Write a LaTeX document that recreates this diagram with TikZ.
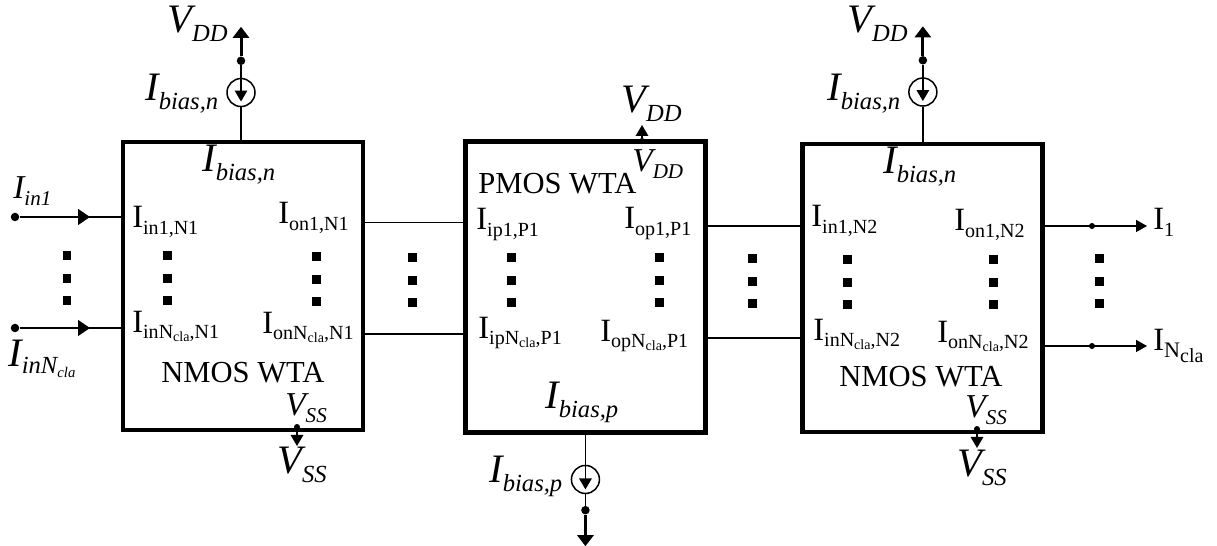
\documentclass[tikz,border=0pt]{standalone}
\usepackage{fontspec}
\setmainfont{Liberation Serif}
\usetikzlibrary{arrows.meta,positioning}
\newcommand{\fsz}[1]{\fontsize{#1}{#1}\selectfont}
\newcommand{\biglbl}[2]{{\fsz{23}\itshape #1\raisebox{-0.18cm}{\fsz{14}#2}}}
\newcommand{\smalllbl}[2]{{\fsz{19}\itshape #1\raisebox{-0.14cm}{\fsz{12}#2}}}
\newcommand{\portlbl}[1]{{\fsz{18.5}I\raisebox{-0.14cm}{\fsz{11.4}#1}}}
\newcommand{\portcla}[2]{{\fsz{18.5}I\raisebox{-0.12cm}{\fsz{11.4}#1N\raisebox{-0.06cm}{\fsz{8}cla}#2}}}
\begin{document}
\begin{tikzpicture}[
			x=0.02cm, y=-0.02cm,
			node distance=0.65cm and 1.96cm,
			wtabox/.style={draw, line width=0.09cm, minimum width=4.8cm, minimum height=5.76cm},
			source/.style={draw, circle, line width=0.03cm, minimum size=0.56cm, inner sep=0},
			junc/.style={circle, fill=black, minimum size=0.17cm, inner sep=0},
			smalljunc/.style={circle, fill=black, minimum size=0.12cm, inner sep=0},
			dotsq/.style={fill=black, minimum size=0.18cm, inner sep=0},
			lbl/.style={anchor=base west, inner sep=0},
			wire/.style={line width=0.03cm},
			rail/.style={line width=0.06cm, -{Triangle[length=0.22cm,width=0.32cm]}},
			arr/.style={line width=0.03cm, -{Triangle[length=0.24cm,width=0.32cm]}},
			outarr/.style={line width=0.03cm, -{Triangle[length=0.22cm,width=0.24cm]}},
			tinyarr/.style={line width=0.03cm, -{Triangle[length=0.22cm,width=0.25cm]}}
			]
			\useasboundingbox (0,0) rectangle (1217,546);

			\node[wtabox] (boxA) at (243,286) {};
			\node[wtabox, right=of boxA, yshift=-0.02cm, minimum height=5.82cm] (boxB) {};
			\node[wtabox, right=1.85cm of boxB, yshift=-0.02cm] (boxC) {};

			\node[source, above=of boxA, xshift=-0.04cm] (srcA) {};
			\node[source, above=0.7cm of boxC, xshift=0.01cm] (srcC) {};
			\node[source, below=0.6cm of boxB] (srcB) {};

			\node[junc, above=0.34cm of srcA.north, anchor=center] (juncA) {};
			\node[junc, above=0.34cm of srcC.north, anchor=center] (juncC) {};
			\node[junc, below=0.32cm of srcB.south, anchor=center] (juncB) {};
			\coordinate[above=0.68cm of juncA.center] (vddA);
			\coordinate[above=0.68cm of juncC.center] (vddC);
			\coordinate[below=0.72cm of juncB.center] (gndB);

			\draw[wire] (srcA.south) -- (srcA.south |- boxA.north);
			\draw[wire] (srcC.south) -- (srcC.south |- boxC.north);
			\draw[wire] (srcB.north) -- (srcB.north |- boxB.south);
			\draw[wire] (srcA.north) -- (juncA);
			\draw[wire] (srcC.north) -- (juncC);
			\draw[wire] (srcB.south) -- (juncB);
			\draw[rail] (juncA) -- (vddA);
			\draw[rail] (juncC) -- (vddC);
			\draw[rail] (juncB) -- (gndB);

			\coordinate[below=0.18cm of srcA.center] (tipA);
			\coordinate[below=0.18cm of srcC.center] (tipC);
			\coordinate[below=0.2cm of srcB.center] (tipB);
			\draw[tinyarr] (srcA.north) -- (tipA);
			\draw[tinyarr] (srcC.north) -- (tipC);
			\draw[tinyarr] (srcB.north) -- (tipB);

			\node[smalljunc] (juncVddB) at (642,141) {};
			\coordinate (vddB) at (642,125);
			\draw[tinyarr] (juncVddB) -- (vddB);
			\node[smalljunc] (juncVssA) at (297,427) {};
			\coordinate (vssA) at (297,446);
			\draw[tinyarr] (juncVssA) -- (vssA);
			\node[smalljunc] (juncVssC) at (977,429) {};
			\coordinate (vssC) at (977,448);
			\draw[tinyarr] (juncVssC) -- (vssC);

			\node[junc] (inOne) at (15,217) {};
			\node[junc] (inCla) at (15,328) {};
			\coordinate (inOneTip) at (90,217);
			\coordinate (inClaTip) at (90,328);
			\draw[wire] (inOne) -- (boxA.west |- inOne);
			\draw[wire] (inCla) -- (boxA.west |- inCla);
			\draw[arr] (inOne) -- (inOneTip);
			\draw[arr] (inCla) -- (inClaTip);

			\coordinate (abOne) at (400,222.5);
			\coordinate (abCla) at (400,334);
			\draw[wire] (boxA.east |- abOne) -- (boxB.west |- abOne);
			\draw[wire] (boxA.east |- abCla) -- (boxB.west |- abCla);
			\coordinate (bcOne) at (750,226);
			\coordinate (bcCla) at (750,338);
			\draw[wire] (boxB.east |- bcOne) -- (boxC.west |- bcOne);
			\draw[wire] (boxB.east |- bcCla) -- (boxC.west |- bcCla);

			\node[smalljunc] (outOne) at (1092,226) {};
			\node[smalljunc] (outCla) at (1092,346) {};
			\coordinate (outOneTip) at (1147,226);
			\coordinate (outClaTip) at (1147,346);
			\draw[outarr] (boxC.east |- outOne) -- (outOneTip);
			\draw[outarr] (boxC.east |- outCla) -- (outClaTip);

			\foreach \x/\y in {67/256,167/256,316/257,412/258,511/258,659/258,752/259,847/260,993/260,1099/259}
			\foreach \k in {0,1,2}
			\node[dotsq] (sq\x-\k) at (\x,\y+22.5*\k) {};

			\node[lbl] (vddLblA) at (167,33) {\biglbl{V}{DD}};
			\node[lbl] (biasTopA) at (145,101) {\biglbl{I}{bias,n}};
			\node[lbl] (biasInA) at (202,172) {\biglbl{I}{bias,n}};
			\node[lbl] (inOneLbl) at (13,199) {\smalllbl{I}{in1}};
			\node[lbl] (inClaLbl) at (8,367) {{\fsz{23}\itshape I\raisebox{-0.14cm}{\fsz{14}inN\raisebox{-0.08cm}{\fsz{8.4}cla}}}};
			\node[lbl] (ptA1) at (132,228) {\portlbl{in1,N1}};
			\node[lbl] (ptA2) at (278,224) {\portlbl{on1,N1}};
			\node[lbl] (ptA3) at (132,333) {\portcla{in}{,N1}};
			\node[lbl] (ptA4) at (262,334) {\portcla{on}{,N1}};
			\node[lbl, font=\fsz{17.4}] (nameA) at (161,383) {NMOS WTA};
			\node[lbl] (vssInA) at (285,416) {\smalllbl{V}{SS}};
			\node[lbl] (vssOutA) at (277,474) {\biglbl{V}{SS}};

			\node[lbl] (vddLblB) at (621,113) {\biglbl{V}{DD}};
			\node[lbl] (vddInB) at (632,172) {\smalllbl{V}{DD}};
			\node[lbl, font=\fsz{17.4}] (nameB) at (478,194) {PMOS WTA};
			\node[lbl] (ptB1) at (476,230) {\portlbl{ip1,P1}};
			\node[lbl] (ptB2) at (624,229) {\portlbl{op1,P1}};
			\node[lbl] (ptB3) at (478,339) {\portcla{ip}{,P1}};
			\node[lbl] (ptB4) at (600,342) {\portcla{op}{,P1}};
			\node[lbl] (biasInB) at (545,409) {\biglbl{I}{bias,p}};
			\node[lbl] (biasOutB) at (489,483) {\biglbl{I}{bias,p}};

			\node[lbl] (vddLblC) at (847,33) {\biglbl{V}{DD}};
			\node[lbl] (biasTopC) at (827,101) {\biglbl{I}{bias,n}};
			\node[lbl] (biasInC) at (883,174) {\biglbl{I}{bias,n}};
			\node[lbl] (ptC1) at (811,227) {\portlbl{in1,N2}};
			\node[lbl] (ptC2) at (954,231) {\portlbl{on1,N2}};
			\node[lbl] (ptC3) at (813,341) {\portcla{in}{,N2}};
			\node[lbl] (ptC4) at (937,343) {\portcla{on}{,N2}};
			\node[lbl, font=\fsz{17.4}] (nameC) at (839,387) {NMOS WTA};
			\node[lbl] (vssInC) at (965,418) {\smalllbl{V}{SS}};
			\node[lbl] (vssOutC) at (957,477) {\biglbl{V}{SS}};

			\node[lbl] (outOneLbl) at (1153,230) {\portlbl{1}};
			\node[lbl] (outClaLbl) at (1153,351) {{\fsz{18.5}I\raisebox{-0.14cm}{\fsz{12.6}N\raisebox{-0.1cm}{\fsz{11.4}cla}}}};
		\end{tikzpicture}
\end{document}
